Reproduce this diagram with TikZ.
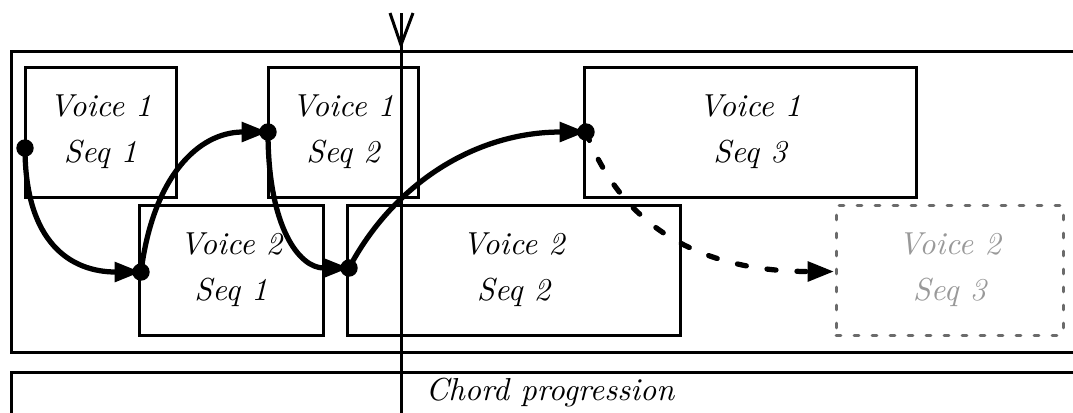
\documentclass[tikz,border=0pt]{standalone}
\usetikzlibrary{arrows.meta,calc}
\begin{document}
\begin{tikzpicture}[x=0.3333pt,y=0.3333pt,
  txt/.style={font=\fontsize{10.6}{12.7}\selectfont\itshape},
  bx/.style={txt,draw,line width=1pt,inner sep=0pt,outer sep=0pt,align=center},
  ghost/.style={txt,draw=black!58,line width=1pt,dash pattern=on 1.6pt off 4.4pt,line cap=round,text=black!40,inner sep=0pt,outer sep=0pt,align=center},
  frame/.style={line width=1pt},
  conn/.style={line width=1.75pt,-{Triangle[length=8.8pt,width=6.4pt]}},
  dashconn/.style={conn,dash pattern=on 3pt off 7pt,line cap=round},
  dot/.style={circle,fill,inner sep=0pt,minimum size=5.8pt}]
\useasboundingbox (0,0) rectangle (1073,-412);
\clip (0,0) rectangle (1073,-412);
% frames
\draw[frame] (1090,-51) -| (11,-352) -- (1090,-352);
\draw[frame] (1090,-372) -| (11,-430);
\node[txt,anchor=base] (chord) at (550,-400) {Chord progression};
% boxes
\node[bx,minimum width=151*0.3333pt,minimum height=130*0.3333pt] (v11) at (100.5,-132) {Voice 1\\[2.5pt]Seq 1};
\node[bx,minimum width=150*0.3333pt,minimum height=130*0.3333pt] (v12) at (343,-132) {Voice 1\\[2.5pt]Seq 2};
\node[bx,minimum width=332*0.3333pt,minimum height=130*0.3333pt] (v13) at (750,-132) {Voice 1\\[2.5pt]Seq 3};
\node[bx,minimum width=184*0.3333pt,minimum height=130*0.3333pt] (v21) at (231,-270) {Voice 2\\[2.5pt]Seq 1};
\node[bx,minimum width=333*0.3333pt,minimum height=130*0.3333pt] (v22) at (513.5,-270) {Voice 2\\[2.5pt]Seq 2};
\node[ghost,minimum width=227*0.3333pt,minimum height=130*0.3333pt] (v23) at (949.5,-270) {Voice 2\\[2.5pt]Seq 3};
% time line
\coordinate (tt) at (401,-13);
\coordinate (tb) at (401,-420);
\coordinate (tl) at (390,-13);
\coordinate (tr) at (413,-13);
\coordinate (tm) at (401,-45);
\draw[frame] (tt) -- (tb);
\draw[frame] (tl) -- (tm) -- (tr);
% connection points
\coordinate (A) at ($(v11.west)+(0,-16)$);
\coordinate (B) at ($(v21.west)+(2,-2)$);
\coordinate (C) at (v12.west);
\coordinate (D) at ($(v22.west)+(2,2)$);
\coordinate (E) at ($(v13.west)+(2,0)$);
\coordinate (F) at ($(v23.west)+(-2,-1.5)$);
\draw[conn] (A) .. controls +(0,-95) and +(-70,0) .. (B);
\draw[conn] (B) .. controls +(12,95) and +(-70,0) .. (C);
\draw[conn] (C) .. controls +(0,-95) and +(-50,0) .. (D);
\draw[conn] (D) .. controls +(45,85) and +(-110,0) .. (E);
\draw[dashconn] (E) .. controls +(40,-105) and +(-120,0) .. (F);
\node[dot] (dA) at (A) {};
\node[dot] (dB) at (B) {};
\node[dot] (dC) at (C) {};
\node[dot] (dD) at (D) {};
\node[dot] (dE) at (E) {};
\end{tikzpicture}
\end{document}
